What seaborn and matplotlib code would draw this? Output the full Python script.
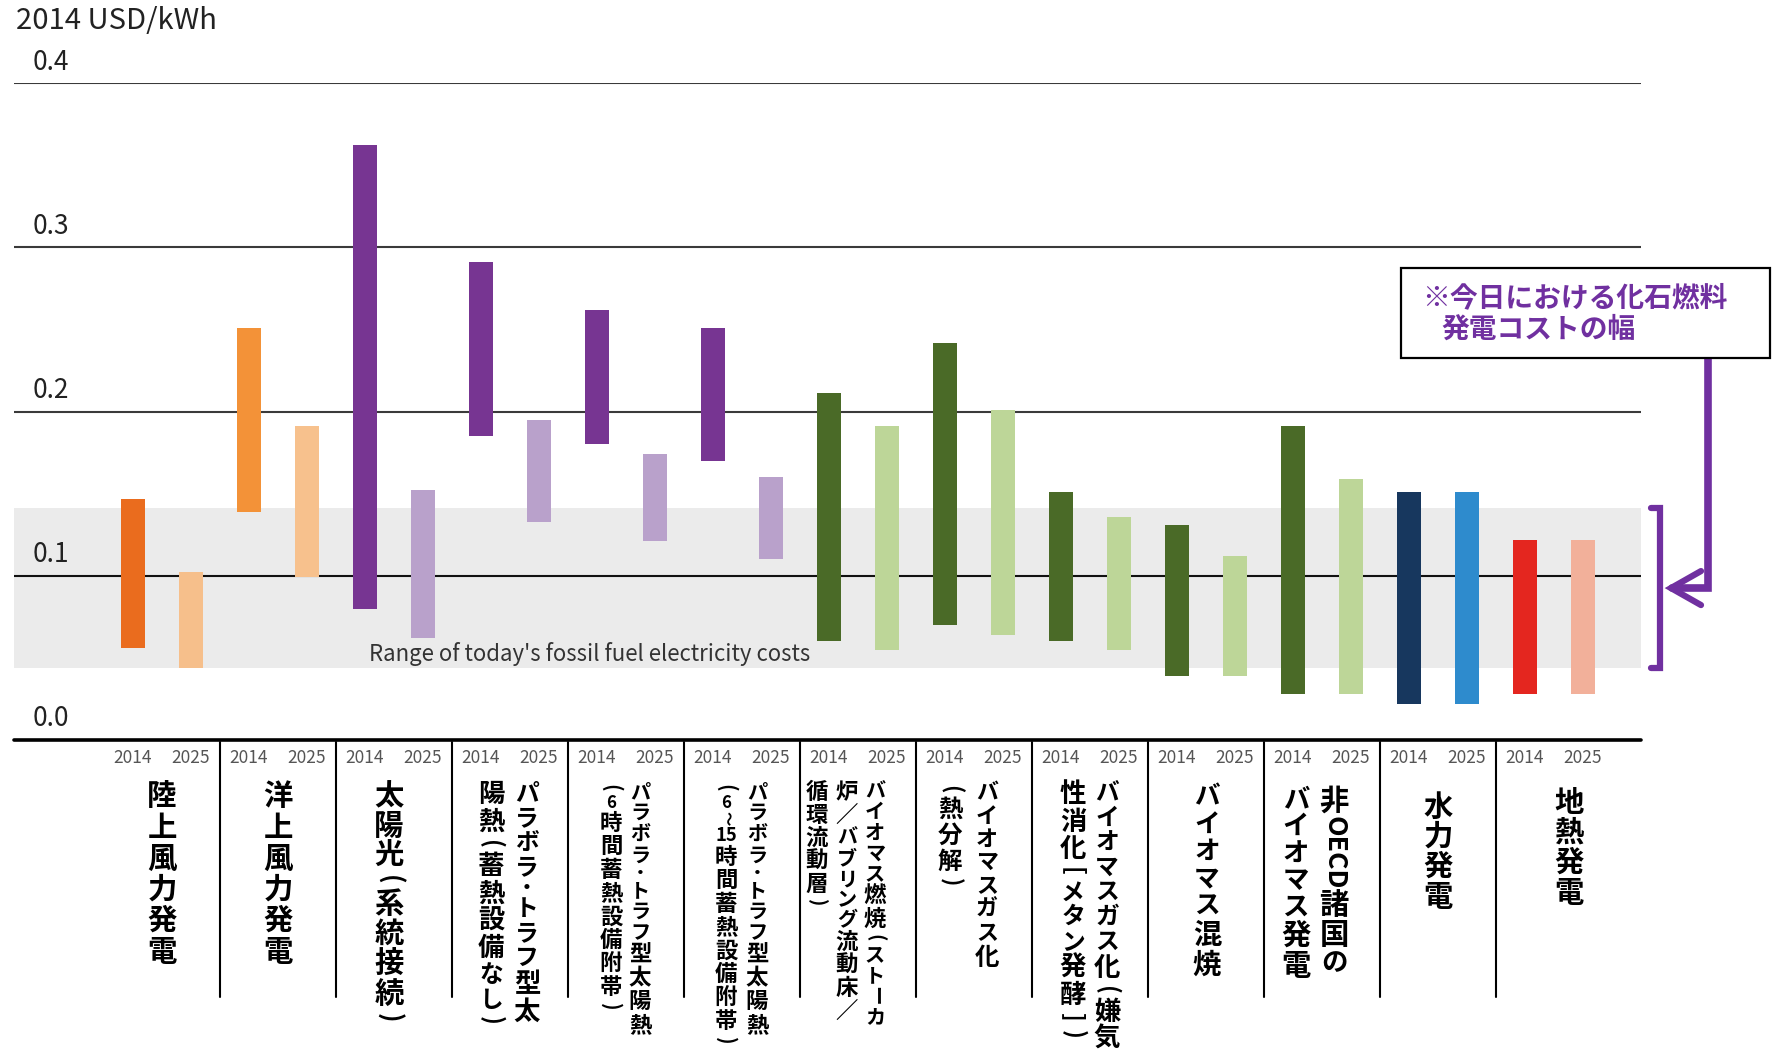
import numpy as np
import pandas as pd
import matplotlib
matplotlib.use("Agg")
import matplotlib.pyplot as plt
import matplotlib.transforms as mtransforms
from matplotlib.patches import Rectangle
from matplotlib.lines import Line2D
import seaborn as sns

# ---------------- data ----------------
groups = [
    "陸上風力発電", "洋上風力発電", "太陽光（系統接続）",
    "パラボラ・トラフ型太陽熱（蓄熱設備なし）",
    "パラボラ・トラフ型太陽熱（6時間蓄熱設備附帯）",
    "パラボラ・トラフ型太陽熱（6～15時間蓄熱設備附帯）",
    "バイオマス燃焼（ストーカ炉／バブリング流動床／循環流動層）",
    "バイオマスガス化（熱分解）",
    "バイオマスガス化（嫌気性消化［メタン発酵］）",
    "バイオマス混焼", "非OECD諸国のバイオマス発電", "水力発電", "地熱発電",
]
# vertical label columns, listed right to left ({..} = rotated run, <..> = upright group)
label_columns = [
    ["陸上風力発電"],
    ["洋上風力発電"],
    ["太陽光（系統接続）"],
    ["パラボラ・トラフ型太", "陽熱（蓄熱設備なし）"],
    ["パラボラ・トラフ型太陽熱", "（6時間蓄熱設備附帯）"],
    ["パラボラ・トラフ型太陽熱", "（6～<15>時間蓄熱設備附帯）"],
    ["バイオマス燃焼（ストーカ", "炉／バブリング流動床／", "循環流動層）"],
    ["バイオマスガス化", "（熱分解）"],
    ["バイオマスガス化（嫌気", "性消化［メタン発酵］）"],
    ["バイオマス混焼"],
    ["非{OECD}諸国の", "バイオマス発電"],
    ["水力発電"],
    ["地熱発電"],
]
years = ["2014", "2025"]
low_2014 = [0.056, 0.139, 0.080, 0.185, 0.180, 0.170, 0.060, 0.070, 0.060, 0.039, 0.028, 0.022, 0.028]
high_2014 = [0.147, 0.251, 0.362, 0.291, 0.262, 0.251, 0.211, 0.242, 0.151, 0.131, 0.191, 0.151, 0.122]
low_2025 = [0.044, 0.099, 0.062, 0.133, 0.121, 0.110, 0.055, 0.064, 0.055, 0.039, 0.028, 0.022, 0.028]
high_2025 = [0.102, 0.191, 0.152, 0.195, 0.174, 0.160, 0.191, 0.201, 0.136, 0.112, 0.159, 0.151, 0.122]
colors_2014 = ["#EA6C1E", "#F39238", "#773592", "#773592", "#773592", "#773592",
               "#4A6A27", "#4A6A27", "#4A6A27", "#4A6A27", "#4A6A27", "#17375E", "#E4261F"]
colors_2025 = ["#F6BF8B", "#F7C18D", "#B9A1CB", "#B9A1CB", "#B9A1CB", "#B9A1CB",
               "#BDD698", "#BDD698", "#BDD698", "#BDD698", "#BDD698", "#2E8BCD", "#F2B09A"]
fossil_range = [0.044, 0.141]
yticks = [0.0, 0.1, 0.2, 0.3, 0.4]
unit_label = "2014 USD/kWh"
band_label = "Range of today's fossil fuel electricity costs"
note_lines = ["※今日における化石燃料", "発電コストの幅"]

rows = []
for gi, g in enumerate(groups):
    for yr, lo, hi, col in ((years[0], low_2014, high_2014, colors_2014),
                            (years[1], low_2025, high_2025, colors_2025)):
        rows.append(dict(key=f"{gi}-{yr}", group=g, year=yr, low=lo[gi],
                         span=hi[gi] - lo[gi], color=col[gi]))
df = pd.DataFrame(rows)

# ---------------- style ----------------
sns.set_theme(style="white")
JP = ["Noto Sans CJK JP", "DejaVu Sans"]
plt.rcParams["font.family"] = JP

W, H = 1772, 1055
fig = plt.figure(figsize=(W / 100, H / 100), dpi=100)
ax = fig.add_axes([14 / W, 1 - 740 / H, 1627 / W, 657 / H])
ID = mtransforms.IdentityTransform()

sns.barplot(data=df, x="key", y="span", order=list(df["key"]),
            bottom=df["low"].to_numpy(), width=0.43, errorbar=None,
            color="gray", saturation=1, ax=ax, zorder=3)
bars = ax.containers[0]
for p, c in zip(bars, df["color"]):
    p.set_facecolor(c)
    p.set_edgecolor("none")

ax.set_xlim(-2.052, 26.0)
ax.set_ylim(0, 0.4)
ax.set_xticks([])
ax.set_yticks([])
ax.set_xlabel("")
ax.set_ylabel("")
for s in ax.spines.values():
    s.set_visible(False)

# fossil band
ax.axhspan(fossil_range[0], fossil_range[1], color="#EBEBEB", lw=0, zorder=0)
ax.text(7.88, 0.0525, band_label, ha="center", va="center", fontsize=16,
        color="#333333", zorder=2)

# grid lines & axis
for v in yticks[1:]:
    ax.axhline(v, color="#111111" if v == 0.1 else "#3a3a3a", lw=1.5, zorder=1)
ax.axhline(0, color="black", lw=2.6, zorder=4, clip_on=False)

ytr = mtransforms.blended_transform_factory(ax.transAxes, ax.transData)
ytr = mtransforms.offset_copy(ytr, fig=fig, x=0, y=21, units="dots")
for v in yticks:
    ax.text(0.0117, v, f"{v:.1f}", transform=ytr, ha="left", va="center",
            fontsize=19, color="#222222")
fig.text(16 / W, 1 - 21 / H, unit_label, ha="left", va="center", fontsize=21,
         color="#222222")


def xpx(xd):
    return ax.transData.transform((xd, 0))[0]


# group dividers
for k in range(len(groups) - 1):
    x = xpx(2 * k + 1.5)
    fig.add_artist(Line2D([x, x], [H - 742, H - 997], transform=ID, color="black", lw=1.5))

# year labels
for i, yr in enumerate(df["year"]):
    fig.text(xpx(i) / W, 1 - 758 / H, yr, ha="center", va="center", fontsize=12.5,
             color="#555555")


# vertical category labels
def tokenize(s):
    toks, i = [], 0
    while i < len(s):
        c = s[i]
        if c == "{":
            j = s.index("}", i)
            toks.append(("rot", s[i + 1:j]))
            i = j + 1
        elif c == "<":
            j = s.index(">", i)
            toks.append(("grp", s[i + 1:j]))
            i = j + 1
        else:
            toks.append(("ch", c))
            i += 1
    return toks


def advance(kind, t):
    if kind == "rot":
        return 0.62 * len(t)
    if kind == "grp":
        return 0.85
    if t in "（）［］・～":
        return 0.6
    if t.isdigit():
        return 0.7
    if "\u3040" <= t <= "\u30ff":
        return 0.9
    return 1.0


ROT = {"（": "(", "）": ")", "［": "[", "］": "]", "ー": "ー", "～": "～"}

col_offsets = [[0], [0], [-5], [17, -19], [14, -15], [15, -16], [17, -11, -41],
               [13, -24], [17, -17], [1], [12, -26], [0], [15]]
tops = [781, 781, 781, 781, 781, 781, 781, 781, 781, 783, 786, 792, 788]
ems = [31, 31, 30, 27.5, 23.5, 23.5, 23, 26, 27.5, 30.5, 30, 30, 30]

cells = []
for gi, cols in enumerate(label_columns):
    gx = xpx(2 * gi + 0.5)
    em = ems[gi]
    fs = em * 0.72
    for ci, col in enumerate(cols):
        x = gx + col_offsets[gi][ci]
        y = tops[gi]
        for kind, t in tokenize(col):
            adv = advance(kind, t) * em
            cy = H - (y + adv / 2)
            kw = dict(transform=ID, ha="center", va="center", fontweight="bold",
                      color="black")
            if kind == "rot":
                tx = fig.text(x, cy, t, rotation=-90, fontsize=fs * 0.9, **kw)
            elif kind == "grp":
                tx = fig.text(x, cy, t, fontsize=fs * 0.85, **kw)
            elif t in ROT:
                tx = fig.text(x, cy, ROT[t], rotation=-90, fontsize=fs * 0.85, **kw)
            else:
                tx = fig.text(x, cy, t, fontsize=fs, **kw)
            cells.append((tx, adv))
            y += adv

# keep each character inside its own cell
renderer = fig.canvas.get_renderer()
for tx, adv in cells:
    h = tx.get_window_extent(renderer).height
    if h > adv - 0.6:
        tx.set_fontsize(tx.get_fontsize() * max(0.72, (adv - 0.6) / h))

# annotation box and connector
PURPLE = "#7030A0"
fig.add_artist(Rectangle((1401, H - 358), 369, 90, transform=ID, facecolor="white",
                         edgecolor="black", lw=1.6, zorder=5))
fig.text(1422, H - 298, note_lines[0], transform=ID, ha="left", va="center",
         fontsize=20, fontweight="bold", color=PURPLE, zorder=6)
fig.text(1441, H - 330, note_lines[1], transform=ID, ha="left", va="center",
         fontsize=20, fontweight="bold", color=PURPLE, zorder=6)

y_hi = ax.transData.transform((0, fossil_range[1]))[1]
y_lo = ax.transData.transform((0, fossil_range[0]))[1]
y_mid = (y_hi + y_lo) / 2
fig.add_artist(Line2D([1651, 1660, 1660, 1651], [y_hi, y_hi, y_lo, y_lo], transform=ID,
                      color=PURPLE, lw=4.5, solid_joinstyle="miter"))
fig.add_artist(Line2D([1708, 1708, 1672], [H - 358, y_mid, y_mid], transform=ID,
                      color=PURPLE, lw=5.5, solid_joinstyle="miter"))
fig.add_artist(Line2D([1701, 1671, 1701], [y_mid + 17, y_mid, y_mid - 17], transform=ID,
                      color=PURPLE, lw=4.5, solid_joinstyle="miter"))

fig.savefig("out.png", dpi=100)
